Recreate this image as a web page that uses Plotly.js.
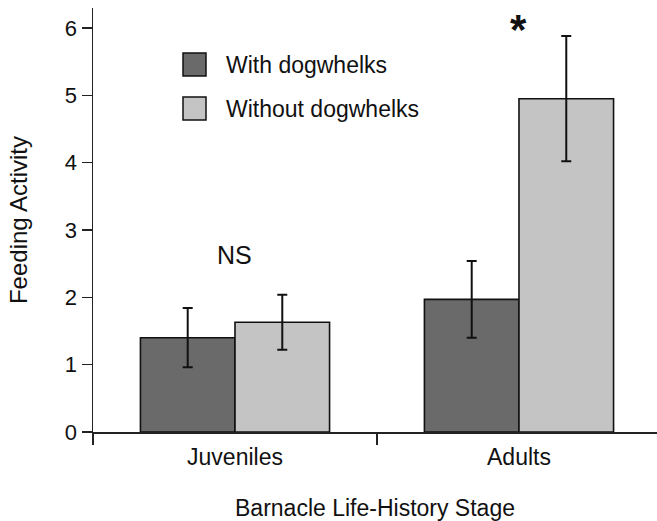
<!DOCTYPE html>
<html>
<head>
<meta charset="utf-8">
<script src="https://cdn.plot.ly/plotly-3.0.1.min.js"></script>
<style>
  html, body { margin: 0; padding: 0; background: #ffffff; }
  #chart { width: 657px; height: 521px; }
</style>
</head>
<body>
<div id="chart"></div>
<script>
// ---- Data ----
const stages = ['Juveniles', 'Adults'];
const seriesNames = ['With dogwhelks', 'Without dogwhelks'];
const withDogwhelks = [1.40, 1.97];
const withDogwhelksErr = [0.44, 0.57];
const withoutDogwhelks = [1.63, 4.95];
const withoutDogwhelksErr = [0.41, 0.93];
const significance = ['NS', '*'];
const yTickVals = [0, 1, 2, 3, 4, 5, 6];

const FONT = '"Liberation Sans", Arial, Helvetica, sans-serif';
const darkFill = '#6a6a6a';
const lightFill = '#c4c4c4';

const traces = [
  {
    type: 'bar', name: seriesNames[0], x: stages, y: withDogwhelks,
    marker: { color: darkFill, line: { color: '#111', width: 1.6 } },
    error_y: { type: 'data', array: withDogwhelksErr, visible: true, color: '#111', thickness: 2, width: 5 },
    showlegend: false, hoverinfo: 'skip'
  },
  {
    type: 'bar', name: seriesNames[1], x: stages, y: withoutDogwhelks,
    marker: { color: lightFill, line: { color: '#111', width: 1.6 } },
    error_y: { type: 'data', array: withoutDogwhelksErr, visible: true, color: '#111', thickness: 2, width: 5 },
    showlegend: false, hoverinfo: 'skip'
  }
];

// plot area: left 93px, right 657px, top 8px, bottom 432px
const W = 657, H = 521, L = 93, R = 0, T = 8, B = 89;
const pw = W - L - R, ph = H - T - B;
const px2x = p => (p - L) / pw;
const px2y = p => (H - B - p) / ph;

// manual legend (large swatches as in the reference)
const legendRows = [
  { top: 53, name: seriesNames[0], fill: darkFill },
  { top: 97, name: seriesNames[1], fill: lightFill }
];
const shapes = [];
const annotations = [];
legendRows.forEach(r => {
  shapes.push({
    type: 'rect', xref: 'paper', yref: 'paper',
    x0: px2x(183), x1: px2x(206), y0: px2y(r.top + 23), y1: px2y(r.top),
    fillcolor: r.fill, line: { color: '#111', width: 1.5 }
  });
  annotations.push({
    xref: 'paper', yref: 'paper', x: px2x(224), y: px2y(r.top + 11.5),
    xanchor: 'left', yanchor: 'middle', text: r.name, showarrow: false,
    font: { family: FONT, size: 23, color: '#111' }
  });
});

annotations.push({
  xref: 'x', yref: 'y', x: stages[0], y: 2.63, xanchor: 'center', yanchor: 'middle',
  text: significance[0], showarrow: false, font: { family: FONT, size: 25, color: '#111' }
});
annotations.push({
  xref: 'x', yref: 'y', x: stages[1], y: 5.98, xanchor: 'center', yanchor: 'middle',
  text: '<b>' + significance[1] + '</b>', showarrow: false, font: { family: FONT, size: 42, color: '#111' }
});

const layout = {
  width: W, height: H,
  margin: { l: L, r: R, t: T, b: B, pad: 0 },
  paper_bgcolor: '#ffffff', plot_bgcolor: '#ffffff',
  barmode: 'group', bargap: 0.334, bargroupgap: 0,
  font: { family: FONT, size: 21, color: '#111' },
  showlegend: false,
  xaxis: {
    type: 'category', range: [-0.5, 1.486],
    showline: true, linecolor: '#222', linewidth: 1.5,
    ticks: 'outside', tickson: 'boundaries', ticklen: 11, tickwidth: 1.5, tickcolor: '#222',
    ticklabelstandoff: 4,
    showgrid: false, zeroline: false,
    tickfont: { family: FONT, size: 23, color: '#111' },
    title: { text: 'Barnacle Life-History Stage', font: { family: FONT, size: 23, color: '#111' }, standoff: 34 }
  },
  yaxis: {
    range: [0, 6.297], tickmode: 'array', tickvals: yTickVals,
    showline: true, linecolor: '#222', linewidth: 1.5,
    ticks: 'outside', ticklen: 10, tickwidth: 1.5, tickcolor: '#222',
    showgrid: false, zeroline: false,
    tickfont: { family: FONT, size: 22, color: '#111' },
    title: { text: 'Feeding Activity', font: { family: FONT, size: 24, color: '#111' }, standoff: 30 }
  },
  shapes: shapes,
  annotations: annotations
};

Plotly.newPlot('chart', traces, layout, { staticPlot: true, displayModeBar: false });
</script>
</body>
</html>
